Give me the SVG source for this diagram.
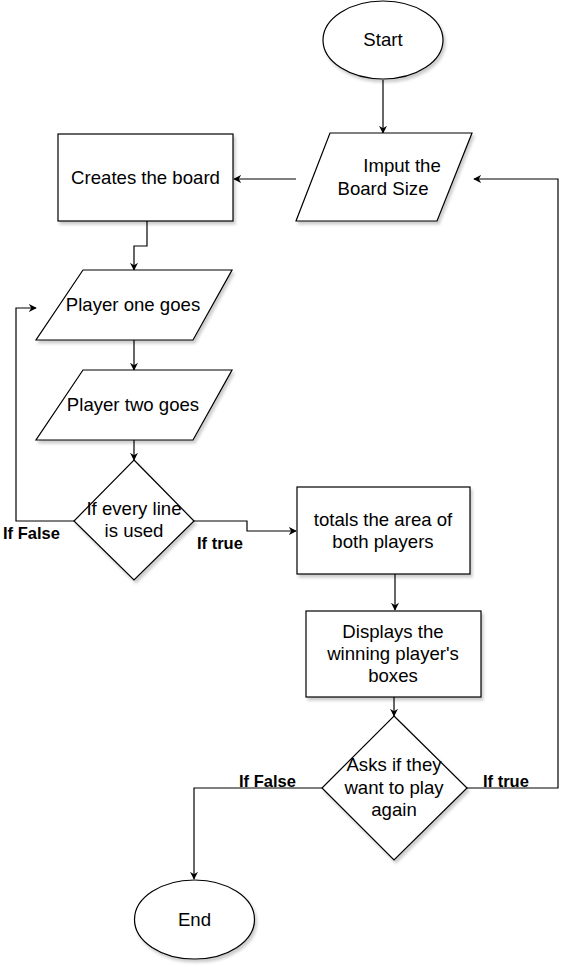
<svg xmlns="http://www.w3.org/2000/svg" width="574" height="967" viewBox="0 0 574 967">
<style>
.n{fill:#fff;stroke:#000;stroke-width:1.2;filter:url(#sh)}
.t{font-family:"Liberation Sans",Arial,sans-serif;font-size:18.6px;fill:#000;text-anchor:middle}
.l{font-family:"Liberation Sans",Arial,sans-serif;font-size:16.5px;font-weight:bold;fill:#000}
.c{fill:none;stroke:#000;stroke-width:1.2;marker-end:url(#ah)}
</style>
<defs>
<filter id="sh" x="-20%" y="-20%" width="140%" height="140%">
<feDropShadow dx="2" dy="3" stdDeviation="1.5" flood-color="#000" flood-opacity="0.2"/>
</filter>
<marker id="ah" viewBox="0 0 10 10" refX="9" refY="5" markerWidth="8" markerHeight="8" markerUnits="userSpaceOnUse" orient="auto">
<path d="M0,0 L10,5 L0,10 L3,5 Z" fill="#000"/>
</marker>
</defs>
<g id="connectors">
<path class="c" d="M383,80 L383,133"/>
<path class="c" d="M296,179 L234,179"/>
<path class="c" d="M147,221 L147,246 L134,246 L134,270"/>
<path class="c" d="M134,340 L134,370"/>
<path class="c" d="M134,440 L134,460"/>
<path class="c" d="M74,521 L16,521 L16,308 L36,308"/>
<path class="c" d="M194,521 L247,521 L247,531 L296,531"/>
<path class="c" d="M395,574 L395,610"/>
<path class="c" d="M394,697 L394,716"/>
<path class="c" d="M467,788 L558,788 L558,179 L474,179"/>
<path class="c" d="M322,788 L194,788 L194,879"/>
<text class="l" x="3" y="539">If False</text>
<text class="l" x="197" y="549">If true</text>
<text class="l" x="239" y="787">If False</text>
<text class="l" x="483" y="787">If true</text>
</g>
<g id="start">
<ellipse class="n" cx="383" cy="40" rx="60" ry="39"/>
<text class="t" x="383" y="46">Start</text>
</g>
<g id="input">
<polygon class="n" points="330,133 472,133 437,221 296,221"/>
<text class="t" x="402" y="172">Imput the</text>
<text class="t" x="383" y="195">Board Size</text>
</g>
<g id="create">
<rect class="n" x="58" y="134" width="175" height="87"/>
<text class="t" x="145.5" y="184">Creates the board</text>
</g>
<g id="p1">
<polygon class="n" points="83,270 232,270 193,340 36,340"/>
<text class="t" x="133" y="311">Player one goes</text>
</g>
<g id="p2">
<polygon class="n" points="83,370 232,370 193,440 36,440"/>
<text class="t" x="133" y="411">Player two goes</text>
</g>
<g id="d1">
<polygon class="n" points="134,460 194,521 134,580 74,521"/>
<text class="t" x="134" y="515">If every line</text>
<text class="t" x="134" y="537">is used</text>
</g>
<g id="totals">
<rect class="n" x="297" y="487" width="173" height="87"/>
<text class="t" x="383" y="526">totals the area of</text>
<text class="t" x="383" y="548">both players</text>
</g>
<g id="display">
<rect class="n" x="306" y="611" width="175" height="86"/>
<text class="t" x="393" y="638">Displays the</text>
<text class="t" x="393" y="660">winning player's</text>
<text class="t" x="393" y="682">boxes</text>
</g>
<g id="d2">
<polygon class="n" points="394,716 467,788 394,860 322,788"/>
<text class="t" x="394" y="771">Asks if they</text>
<text class="t" x="394" y="794">want to play</text>
<text class="t" x="394" y="816">again</text>
</g>
<g id="end">
<ellipse class="n" cx="194.5" cy="919.5" rx="60" ry="39.5"/>
<text class="t" x="194.5" y="926">End</text>
</g>
</svg>
